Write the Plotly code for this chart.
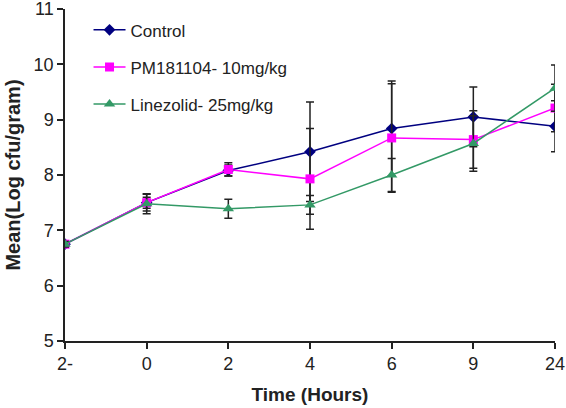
import plotly.graph_objects as go

categories = ["2-", "0", "2", "4", "6", "9", "24"]

control = [6.75, 7.50, 8.08, 8.42, 8.84, 9.05, 8.88]
control_err = [0.05, 0.15, 0.10, 0.90, 0.86, 0.54, 0.46]

pm181104 = [6.75, 7.50, 8.10, 7.93, 8.67, 8.64, 9.21]
pm181104_err = [0.05, 0.10, 0.12, 0.91, 0.98, 0.52, 0.43]

linezolid = [6.75, 7.48, 7.39, 7.46, 8.00, 8.57, 9.57]
linezolid_err = [0.05, 0.18, 0.17, 0.17, 0.30, 0.50, 0.42]

names = ["Control", "PM181104- 10mg/kg", "Linezolid- 25mg/kg"]
y_ticks = [5, 6, 7, 8, 9, 10, 11]

font_family = "Liberation Sans, Arial, sans-serif"

fig = go.Figure()

series = [
    (names[0], control, control_err, "#000080", "diamond", 9),
    (names[1], pm181104, pm181104_err, "#FF00FF", "square", 9),
    (names[2], linezolid, linezolid_err, "#339966", "triangle-up", 10),
]

for i, (name, vals, err, color, sym, size) in enumerate(series):
    fig.add_trace(go.Scatter(
        x=categories, y=vals, name=name, mode="lines+markers",
        legendgroup=f"g{i}",
        line=dict(color=color, width=1.5),
        marker=dict(color=color, symbol=sym, size=size),
        error_y=dict(type="data", array=err, visible=True,
                     color="#222222", thickness=1.5, width=4),
    ))

fig.update_layout(
    width=566, height=408,
    margin=dict(l=65, r=11, t=9, b=67, autoexpand=False),
    paper_bgcolor="white", plot_bgcolor="white",
    font=dict(family=font_family, size=18, color="#222222"),
    showlegend=True,
    legend=dict(x=0.048, y=0.99, xanchor="left", yanchor="top",
                bgcolor="rgba(0,0,0,0)", font=dict(size=17, color="#222222"),
                tracegroupgap=12, itemwidth=32),
    xaxis=dict(
        type="category", categoryorder="array", categoryarray=categories,
        range=[0, 6], showgrid=False, zeroline=False, automargin=False,
        showline=True, linecolor="#222222", linewidth=1.5,
        ticks="outside", ticklen=6, tickwidth=1.5, tickcolor="#222222",
        ticklabeloverflow="allow",
        title=dict(text="<b>Time (Hours)</b>", font=dict(size=19), standoff=14),
        tickfont=dict(size=18),
    ),
    yaxis=dict(
        range=[5, 11], tickvals=y_ticks, showgrid=False, zeroline=False,
        automargin=False,
        showline=True, linecolor="#222222", linewidth=1.5,
        ticks="outside", ticklen=6, tickwidth=1.5, tickcolor="#222222",
        ticklabeloverflow="allow",
        title=dict(text="<b>Mean(Log cfu/gram)</b>", font=dict(size=20), standoff=8),
        tickfont=dict(size=18),
    ),
)

fig.write_html(
    "out.html",
    config={"displayModeBar": False},
    post_script="document.body.style.margin='0';document.body.style.overflow='hidden';",
)
